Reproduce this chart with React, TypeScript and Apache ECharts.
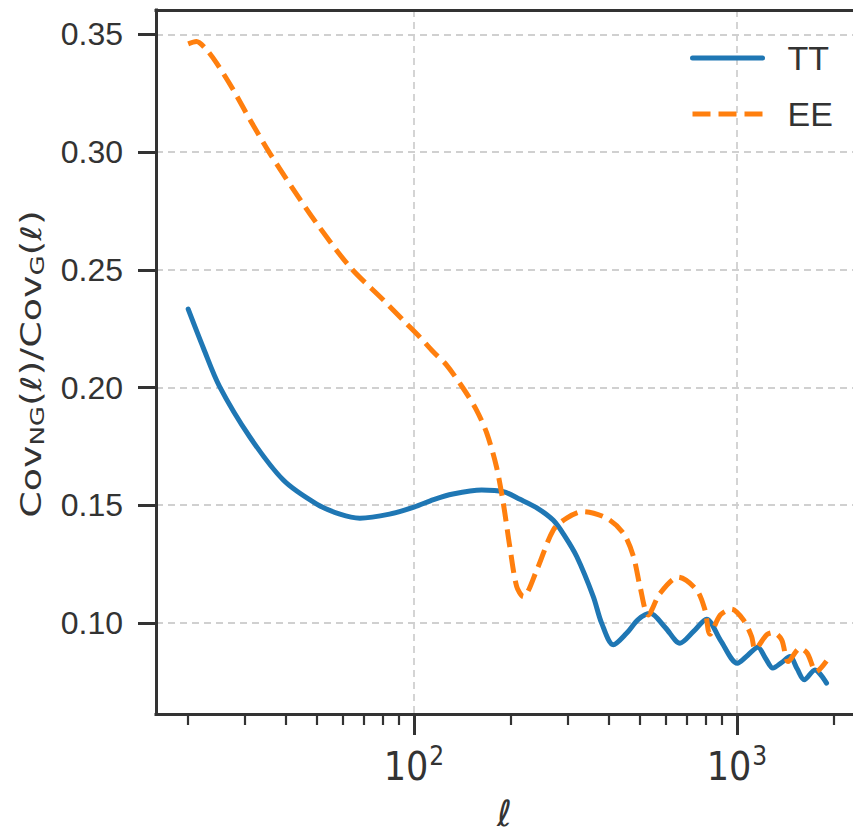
import React, { useEffect, useRef } from 'react';
import * as echarts from 'echarts';

// Multipole ℓ and non-Gaussian / Gaussian covariance ratio, temperature (TT)
const ttEll = [20, 22.3, 25, 31, 39.4, 50, 59, 68, 84, 100, 115, 132, 162, 189, 213, 240, 270, 292, 319, 359, 381, 414, 455, 495, 538, 600, 666, 735, 805, 890, 1002, 1080, 1160, 1225, 1291, 1375, 1459, 1535, 1615, 1742, 1893];
const ttRatio = [0.2333, 0.2167, 0.2005, 0.1791, 0.1607, 0.1505, 0.1462, 0.1445, 0.1462, 0.1492, 0.1524, 0.1548, 0.1565, 0.1558, 0.1525, 0.1489, 0.1436, 0.1372, 0.1282, 0.1112, 0.0999, 0.0907, 0.0956, 0.1015, 0.1041, 0.098, 0.0914, 0.0965, 0.1016, 0.0925, 0.0829, 0.0863, 0.0897, 0.085, 0.0808, 0.0832, 0.0857, 0.0805, 0.0758, 0.08, 0.0744];

// Same ratio for E-mode polarisation (EE)
const eeEll = [20, 21.2, 22.8, 24.5, 27.6, 31.1, 35.8, 42.3, 50, 63.4, 80.4, 92.7, 104, 114.5, 126, 142, 156, 168, 180, 189, 198, 208, 218, 240, 270, 297, 334, 395, 445, 478, 501, 531, 578, 658, 750, 796, 825, 888, 962, 1046, 1110, 1137, 1237, 1296, 1375, 1440, 1567, 1650, 1760, 1893];
const eeRatio = [0.346, 0.347, 0.3435, 0.3378, 0.3264, 0.3137, 0.2995, 0.2842, 0.2697, 0.2512, 0.2372, 0.2285, 0.2216, 0.2153, 0.2096, 0.1997, 0.1905, 0.1806, 0.1664, 0.1509, 0.1324, 0.1154, 0.1112, 0.1225, 0.1395, 0.1445, 0.1473, 0.1445, 0.1381, 0.1282, 0.1154, 0.1034, 0.1126, 0.1194, 0.114, 0.1055, 0.0952, 0.1034, 0.1058, 0.1013, 0.0942, 0.0889, 0.095, 0.0959, 0.0928, 0.0836, 0.0892, 0.0871, 0.0793, 0.0838];

// Axis ticks
const yTicks = [0.1, 0.15, 0.2, 0.25, 0.3, 0.35];
const xMajorTicks = [100, 1000];
const xMinorTicks = [20, 30, 40, 50, 60, 70, 80, 90, 200, 300, 400, 500, 600, 700, 800, 900, 2000];

const X_MIN = 15.9;
const X_MAX = 2286;
const Y_MIN = 0.0613;
const Y_MAX = 0.3604;

const INK = '#333333';
const GRID = '#d0d0d0';
const BLUE = '#1f77b4';
const ORANGE = '#ff7f0e';
const SANS = "'Liberation Sans', Arial, sans-serif";
const COND = "'Liberation Sans Narrow', 'DejaVu Sans Condensed', 'Roboto', sans-serif";
const DV = "'DejaVu Sans', sans-serif";

const zip = (xs: number[], ys: number[]) => xs.map((x, i) => [x, ys[i]]);

export default function App() {
  const ref = useRef<HTMLDivElement>(null);

  useEffect(() => {
    if (!ref.current) return;
    const chart = echarts.init(ref.current, undefined, { renderer: 'svg' });
    const gridLine = { show: true, lineStyle: { color: GRID, width: 1.8, type: [7, 5] as number[] } };
    const spine = { show: true, onZero: false, lineStyle: { color: INK, width: 3, cap: 'square' as const } };

    chart.setOption({
      animation: false,
      backgroundColor: '#ffffff',
      grid: {
        left: 156,
        top: 10,
        right: 0,
        bottom: 122,
        show: false,
        containLabel: false,
        outerBoundsMode: 'none',
      },
      xAxis: [
        {
          type: 'log',
          logBase: 10,
          min: X_MIN,
          max: X_MAX,
          position: 'bottom',
          axisLine: spine,
          axisTick: {
            show: true,
            customValues: xMajorTicks,
            length: 21,
            lineStyle: { color: INK, width: 3 },
          },
          axisLabel: {
            customValues: xMajorTicks,
            margin: 29,
            formatter: (v: number) => `{b|10}{s|${Math.round(Math.log10(v))}}`,
            rich: {
              b: { fontSize: 39, fontFamily: COND, color: INK, lineHeight: 46 },
              s: { fontSize: 26, fontFamily: COND, color: INK, verticalAlign: 'top', padding: [0, 0, 0, 1] },
            },
          },
          splitLine: gridLine,
          minorTick: { show: false },
          minorSplitLine: { show: false },
          name: 'ℓ',
          nameLocation: 'middle',
          nameGap: 80,
          nameTextStyle: { fontSize: 36, fontFamily: DV, fontStyle: 'italic', color: INK, lineHeight: 38 },
        },
        {
          // minor decade ticks
          type: 'log',
          logBase: 10,
          min: X_MIN,
          max: X_MAX,
          position: 'bottom',
          axisLine: { show: false, onZero: false },
          axisTick: {
            show: true,
            customValues: xMinorTicks,
            length: 11,
            lineStyle: { color: INK, width: 2.2 },
          },
          axisLabel: { show: false },
          splitLine: { show: false },
          minorTick: { show: false },
        },
        {
          // top spine
          type: 'log',
          logBase: 10,
          min: X_MIN,
          max: X_MAX,
          position: 'top',
          axisLine: spine,
          axisTick: { show: false },
          axisLabel: { show: false },
          splitLine: { show: false },
          minorTick: { show: false },
        },
      ],
      yAxis: {
        type: 'value',
        min: Y_MIN,
        max: Y_MAX,
        axisLine: spine,
        axisTick: {
          show: true,
          customValues: yTicks,
          length: 18,
          lineStyle: { color: INK, width: 3 },
        },
        axisLabel: {
          customValues: yTicks,
          margin: 33,
          fontSize: 32,
          fontFamily: SANS,
          color: INK,
          formatter: (v: number) => v.toFixed(2),
        },
        splitLine: gridLine,
      },
      legend: {
        orient: 'vertical',
        left: 690,
        top: 41,
        padding: 0,
        itemWidth: 70,
        itemHeight: 33,
        itemGap: 22,
        itemStyle: { opacity: 0 },
        lineStyle: { width: 5 },
        textStyle: { fontSize: 34, fontFamily: SANS, color: INK, padding: [0, 0, 0, 20] },
        data: ['TT', 'EE'],
      },
      graphic: [
        {
          type: 'text',
          x: 31,
          y: 364,
          rotation: Math.PI / 2,
          scaleY: 0.74,
          style: {
            text: '{m|Cov}{s|NG}{m|(ℓ)/Cov}{s|G}{m|(ℓ)}',
            align: 'center',
            verticalAlign: 'middle',
            fill: INK,
            rich: {
              m: { fontSize: 38, fontFamily: DV, fill: INK, lineHeight: 44 },
              s: { fontSize: 26, fontFamily: DV, fill: INK, verticalAlign: 'bottom' },
            },
          },
        },
      ],
      series: [
        {
          name: 'TT',
          type: 'line',
          xAxisIndex: 0,
          data: zip(ttEll, ttRatio),
          symbol: 'none',
          showSymbol: false,
          smooth: 0.3,
          lineStyle: { color: BLUE, width: 5, cap: 'round', join: 'round' },
          itemStyle: { color: BLUE },
          z: 3,
        },
        {
          name: 'EE',
          type: 'line',
          xAxisIndex: 0,
          data: zip(eeEll, eeRatio),
          symbol: 'none',
          showSymbol: false,
          smooth: 0.3,
          lineStyle: { color: ORANGE, width: 5, type: [18, 8], cap: 'butt', join: 'round' },
          itemStyle: { color: ORANGE },
          z: 4,
        },
      ],
    });

    return () => chart.dispose();
  }, []);

  return (
    <div
      ref={ref}
      style={{ position: 'fixed', left: 0, top: 0, width: 853, height: 836, background: '#fff' }}
    />
  );
}
